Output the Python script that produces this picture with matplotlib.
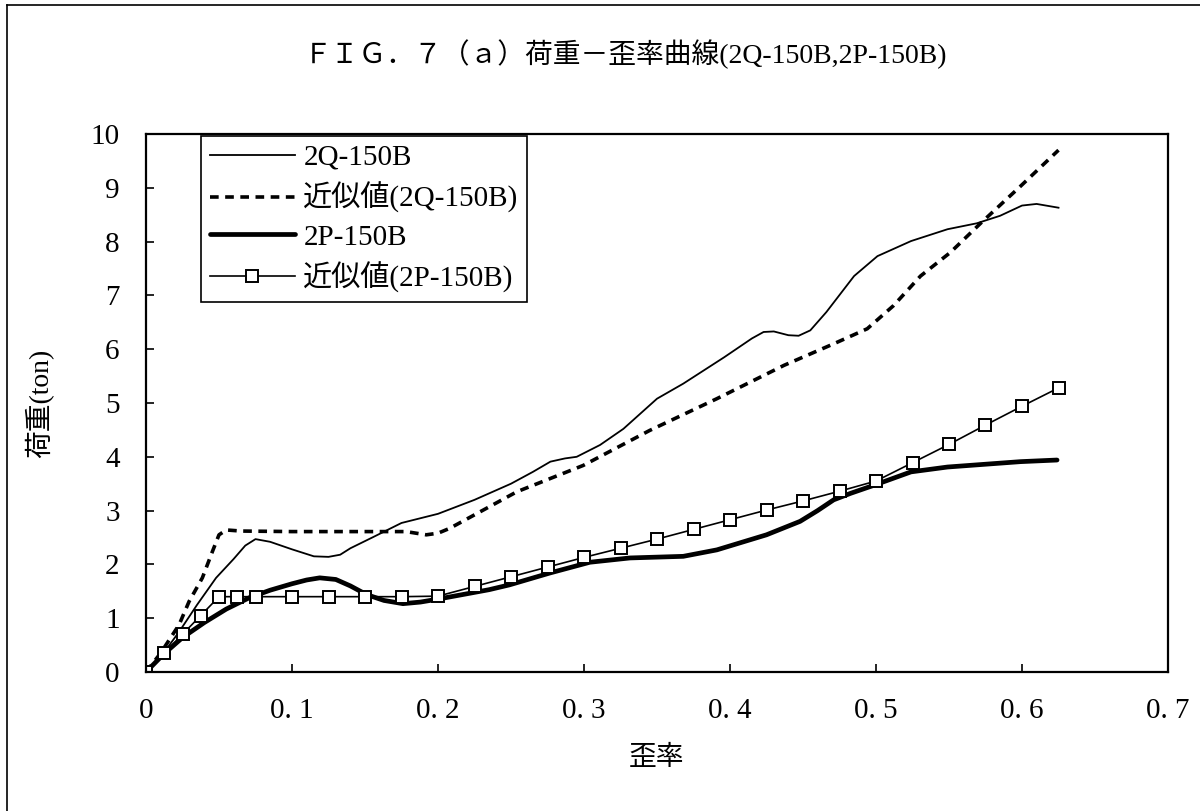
import matplotlib
matplotlib.use("Agg")
import matplotlib.pyplot as plt
from matplotlib.lines import Line2D

plt.rcParams['font.family'] = ['Liberation Serif', 'Noto Sans CJK JP', 'DejaVu Sans']

# ---- data: strain (歪率) vs load (荷重, ton) ----
q_strain = [0, 0.012, 0.023, 0.035, 0.048, 0.06, 0.068, 0.075, 0.085, 0.1, 0.115,
            0.125, 0.133, 0.14, 0.155, 0.175, 0.2, 0.225, 0.25, 0.265, 0.277, 0.287,
            0.295, 0.311, 0.327, 0.35, 0.368, 0.396, 0.415, 0.423, 0.43, 0.44,
            0.447, 0.455, 0.466, 0.485, 0.501, 0.524, 0.549, 0.569, 0.585, 0.6,
            0.61, 0.625]
q_load = [0, 0.35, 0.76, 1.25, 1.75, 2.1, 2.35, 2.47, 2.42, 2.28, 2.15,
          2.14, 2.18, 2.3, 2.5, 2.77, 2.94, 3.2, 3.5, 3.72, 3.91, 3.97,
          4.0, 4.22, 4.52, 5.08, 5.36, 5.85, 6.2, 6.32, 6.33, 6.26,
          6.25, 6.35, 6.69, 7.36, 7.73, 8.01, 8.23, 8.34, 8.48, 8.67,
          8.7, 8.63]

q_fit_strain = [0, 0.01, 0.0227, 0.0295, 0.0386, 0.0455, 0.05, 0.055, 0.065, 0.1,
                0.15, 0.178, 0.192, 0.2, 0.208, 0.254, 0.2995, 0.345, 0.391, 0.437,
                0.471, 0.494, 0.512, 0.5305, 0.551, 0.572, 0.599, 0.625]
q_fit_load = [0, 0.35, 0.88, 1.31, 1.75, 2.24, 2.55, 2.64, 2.62, 2.61,
              2.61, 2.61, 2.55, 2.58, 2.67, 3.35, 3.84, 4.49, 5.08, 5.7,
              6.1, 6.38, 6.81, 7.36, 7.8, 8.35, 9.03, 9.7]

p_strain = [0, 0.012, 0.025, 0.04, 0.055, 0.0707, 0.085, 0.1, 0.11, 0.119, 0.13,
            0.14, 0.151, 0.163, 0.176, 0.188, 0.199, 0.235, 0.249, 0.2766, 0.304,
            0.3315, 0.368, 0.391, 0.425, 0.448, 0.46, 0.471, 0.4825, 0.4985, 0.524,
            0.549, 0.574, 0.599, 0.624]
p_load = [0, 0.33, 0.64, 0.92, 1.17, 1.38, 1.52, 1.64, 1.71, 1.75, 1.72,
          1.6, 1.44, 1.33, 1.27, 1.3, 1.35, 1.53, 1.62, 1.84, 2.04,
          2.12, 2.15, 2.27, 2.55, 2.8, 3.0, 3.2, 3.32, 3.47, 3.72,
          3.81, 3.86, 3.91, 3.94]

p_fit_strain = [0, 0.0125, 0.025, 0.0375, 0.05, 0.0625, 0.075, 0.1, 0.125, 0.15,
                0.175, 0.2, 0.225, 0.25, 0.275, 0.3, 0.325, 0.35, 0.375, 0.4,
                0.425, 0.45, 0.475, 0.5, 0.525, 0.55, 0.575, 0.6, 0.625]
p_fit_load = [0, 0.35, 0.7, 1.05, 1.4, 1.4, 1.4, 1.4, 1.4, 1.4,
              1.4, 1.41, 1.59, 1.77, 1.95, 2.13, 2.3, 2.47, 2.65, 2.83,
              3.01, 3.18, 3.36, 3.55, 3.89, 4.23, 4.59, 4.94, 5.28]

labels = ['2Q-150B', '近似値(2Q-150B)', '2P-150B', '近似値(2P-150B)']
x_ticks = [0, 0.1, 0.2, 0.3, 0.4, 0.5, 0.6, 0.7]
x_ticklabels = ['0', '0. 1', '0. 2', '0. 3', '0. 4', '0. 5', '0. 6', '0. 7']
y_ticks = list(range(0, 11))

fig = plt.figure(figsize=(12, 8.11), dpi=100)
ax = fig.add_axes([146 / 1200, 1 - 672 / 811, 1022 / 1200, 538 / 811])

ax.plot(q_strain, q_load, color='black', lw=1.3, label=labels[0])
ax.plot(q_fit_strain, q_fit_load, color='black', lw=2.6, dashes=(2.4, 1.8),
        label=labels[1])
ax.plot(p_strain, p_load, color='black', lw=3.4, solid_capstyle='round',
        solid_joinstyle='round', label=labels[2])
ax.plot(p_fit_strain, p_fit_load, color='black', lw=1.2, marker='s', ms=9,
        mfc='white', mec='black', mew=1.4, label=labels[3])

ax.set_xlim(0, 0.7)
ax.set_ylim(0, 10)
ax.set_xticks(x_ticks)
ax.set_xticklabels(x_ticklabels)
ax.set_yticks(y_ticks)
ax.tick_params(axis='both', direction='in', length=6, width=1.2,
               labelsize=21, top=False, right=False)
ax.tick_params(axis='x', pad=19)
ax.tick_params(axis='y', pad=19)
for s in ax.spines.values():
    s.set_linewidth(1.6)
    s.set_color('black')

ax.set_xlabel('歪率', fontsize=20)
ax.xaxis.set_label_coords(0.5, -0.1375)
ax.set_ylabel('荷重(ton)', fontsize=20)
ax.yaxis.set_label_coords(-0.09, 0.5)

leg = ax.legend(loc='upper left', bbox_to_anchor=(0.054, 0.997),
                borderaxespad=0, fontsize=21, handlelength=2.9,
                handletextpad=0.3, labelspacing=0.38, borderpad=0.3,
                fancybox=False, framealpha=1, edgecolor='black')
leg.get_frame().set_linewidth(1.2)

fig.text(625 / 1200, 1 - 54 / 811, 'ＦＩＧ．７（ａ）荷重－歪率曲線(2Q-150B,2P-150B)',
         ha='center', va='center', fontsize=20)

# page frame edges
fig.add_artist(Line2D([7 / 1200, 7 / 1200], [0, 1 - 5 / 811],
                      transform=fig.transFigure, color='black', lw=1.2))
fig.add_artist(Line2D([7 / 1200, 1], [1 - 5 / 811, 1 - 5 / 811],
                      transform=fig.transFigure, color='black', lw=1.2))

fig.savefig('out.png', dpi=100)
